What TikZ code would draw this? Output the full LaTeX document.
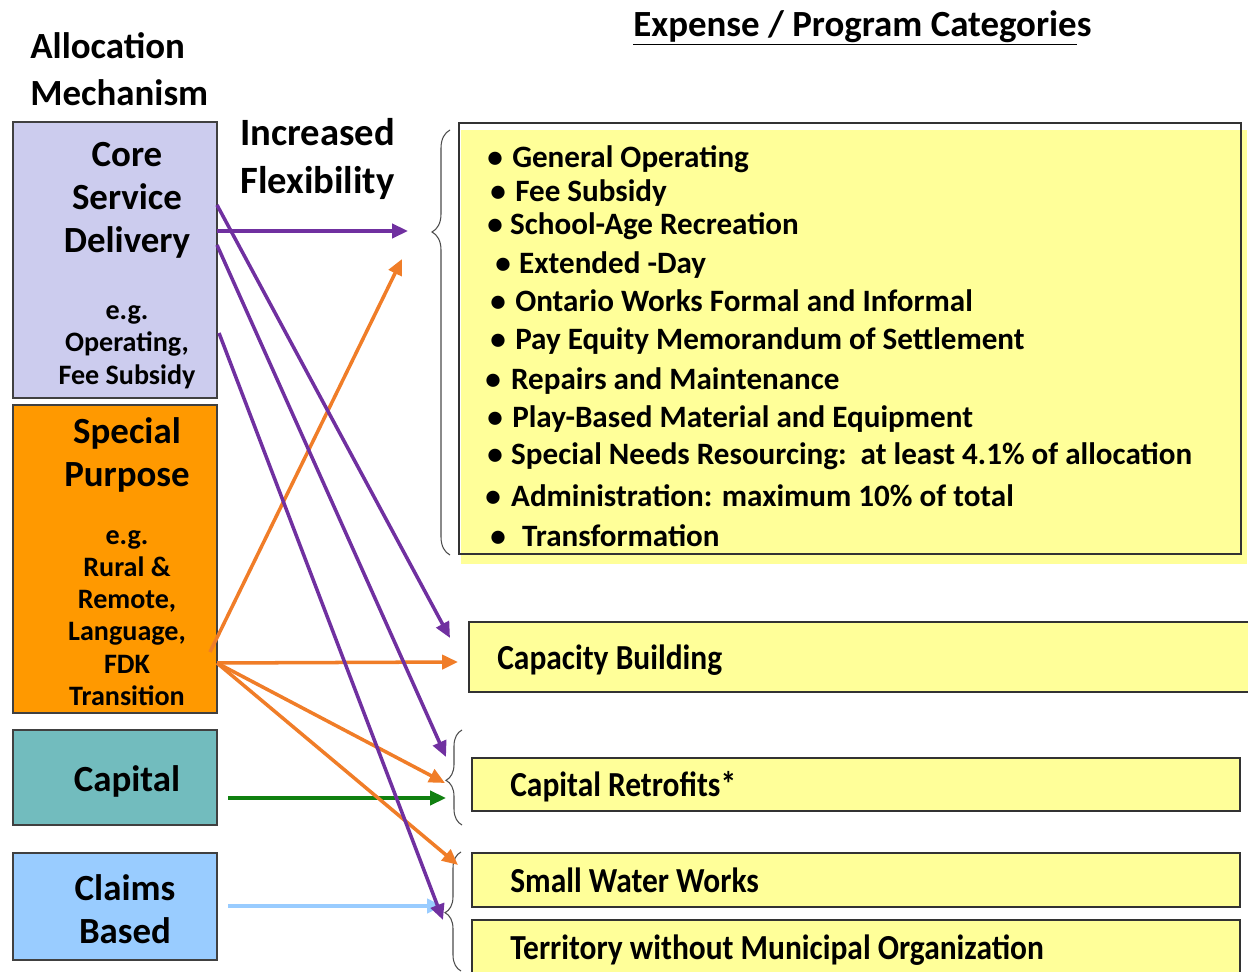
\documentclass[tikz,border=0pt]{standalone}
\usepackage{fontspec}
\setmainfont{Carlito}
\usepackage{graphicx}
\usetikzlibrary{arrows.meta,decorations.pathreplacing,positioning}
\definecolor{corelav}{RGB}{204,204,238}
\definecolor{specorange}{RGB}{255,153,0}
\definecolor{capteal}{RGB}{114,188,190}
\definecolor{claimblue}{RGB}{153,204,255}
\definecolor{catyellow}{RGB}{255,255,153}
\definecolor{flowpurple}{RGB}{112,48,160}
\definecolor{floworange}{RGB}{240,125,40}
\definecolor{flowgreen}{RGB}{16,128,16}
\tikzset{mechanism node/.style={rectangle, draw=black!75, line width=1pt,
    minimum width=4.08cm, inner sep=0pt}}
\tikzset{category node/.style={rectangle, draw=black!80, line width=1pt,
    fill=catyellow, inner sep=0pt}}
\tikzset{heading text/.style={font=\bfseries\fontsize{21}{26.6}\selectfont, inner sep=0pt}}
\tikzset{label text/.style={font=\bfseries\fontsize{21}{24.4}\selectfont, align=center, inner sep=0pt}}
\tikzset{example text/.style={font=\bfseries\fontsize{16}{18.4}\selectfont, align=center, inner sep=0pt}}
\tikzset{item text/.style={font=\bfseries\fontsize{17.7}{20}\selectfont, anchor=base west, inner sep=0pt}}
\tikzset{category text/.style={font=\bfseries\fontsize{20}{24}\selectfont, anchor=base west, inner sep=0pt}}
\tikzset{flow edge/.style={line width=2pt, -{Triangle[length=9pt,width=8pt]}}}
\tikzset{group brace/.style={draw=black!70, line width=0.6pt, decorate,
    decoration={brace, amplitude=#1}}}
\newcommand{\narrowtext}[1]{\scalebox{0.895}[1]{#1}}

\begin{document}
\begin{tikzpicture}[x=0.02cm, y=-0.02cm]
  \clip (0,0) rectangle (1248,972);

  \node [heading text, anchor=west, align=left] (alloc)   at ( 30, 69) {Allocation\\Mechanism};
  \node [heading text, anchor=west]             (expense) at (633, 28) {\underline{Expense / Program Categorie}s};
  \node [heading text, anchor=west, align=left, font=\bfseries\fontsize{22}{27.8}\selectfont]
                                                (flex)    at (240,159) {Increased\\Flexibility};

  \node [mechanism node, fill=corelav,     minimum height=5.52cm] (core)    at (115,260.0) {};
  \node [mechanism node, fill=specorange,  minimum height=6.16cm] (special) at (115,559.0) {};
  \node [mechanism node, fill=capteal,     minimum height=1.90cm] (capital) at (115,777.5) {};
  \node [mechanism node, fill=claimblue,   minimum height=2.14cm] (claims)  at (115,906.5) {};

  \node [label text]   (core title)    at (127,200) {Core\\Service\\Delivery};
  \node [example text] (core eg)       at (127,347) {e.g.\\Operating,\\Fee Subsidy};
  \node [label text]   (special title) at (127,455) {Special\\Purpose};
  \node [example text] (special eg)    at (127,618) {e.g.\\Rural \&\\Remote,\\Language,\\FDK\\Transition};
  \node [label text]   (capital title) at (127,781) {Capital};
  \node [label text]   (claims title)  at (125,909) {Claims\\Based};

  \fill [catyellow] (461,130) rectangle (1247,564);
  \node [category node, fill=none, minimum width=15.64cm, minimum height=8.62cm] (general) at (850,338.5) {};
  \foreach \bx/\by/\gap/\txt [count=\i] in {
      487/168/14.2pt/General Operating,
      490/202/14.2pt/Fee Subsidy,
      487/235/13.0pt/School-Age Recreation,
      495/274/13.6pt/Extended -Day,
      490/312/14.2pt/Ontario Works Formal and Informal,
      490/350/14.2pt/Pay Equity Memorandum of Settlement,
      485/390/14.7pt/Repairs and Maintenance,
      487/428/14.2pt/Play-Based Material and Equipment,
      487/465/13.6pt/{Special Needs Resourcing:\ \ at least 4.1\% of allocation},
      485/507/14.7pt/{Administration: maximum 10\% of total},
      490/547/18.1pt/Transformation}
    \node [item text] (item\i) at (\bx,\by) {\makebox[\gap][l]{\textbullet}\txt};

  \node [category node, minimum width=15.82cm, minimum height=1.40cm] (capacity) at (864.5,657.0) {};
  \node [category node, minimum width=15.36cm, minimum height=1.06cm] (retrofit) at (856.0,784.5) {};
  \node [category node, minimum width=15.36cm, minimum height=1.08cm] (water)    at (856.0,880.0) {};
  \node [category node, minimum width=15.36cm, minimum height=1.40cm] (territory) at (856.0,955.0) {};

  \node [category text] (capacity text)  at (497,670) {\narrowtext{Capacity Building}};
  \node [category text] (retrofit text)  at (510,797) {\narrowtext{Capital Retrofits*}};
  \node [category text] (water text)     at (510,892) {\narrowtext{Small Water Works}};
  \node [category text] (territory text) at (510,959) {\narrowtext{Territory without Municipal Organization}};

  \draw [group brace=0.36cm, decoration={aspect=0.76}] (450,555) -- (450,130);
  \draw [group brace=0.32cm, decoration={aspect=0.47}] (462,825) -- (462,730);
  \draw [group brace=0.32cm, decoration={aspect=0.49}] (461,971) -- (461,852);

  \coordinate (core o1)    at (217,231);
  \coordinate (core o2)    at (217,205);
  \coordinate (core o3)    at (217,245);
  \coordinate (core o4)    at (219,333);
  \coordinate (special o1) at (210,652);
  \coordinate (special o2) at (217,663);
  \coordinate (capital o)  at (228,798);
  \coordinate (claims o)   at (228,906);
  \coordinate (general in) at (408,231);
  \coordinate (general in2) at (402,259);
  \coordinate (capacity in) at (450,638);
  \coordinate (capacity in2) at (458,662);
  \coordinate (retrofit in) at (446,757);
  \coordinate (retrofit in2) at (445,783);
  \coordinate (retrofit in3) at (446,798);
  \coordinate (water in)   at (458,865);
  \coordinate (territory in) at (443,920);
  \coordinate (territory in2) at (443,906);

  \draw [flow edge, claimblue]  (claims o)   -- (territory in2);
  \draw [flow edge, flowgreen]  (capital o)  -- (retrofit in3);
  \draw [flow edge, floworange] (special o1) -- (general in2);
  \draw [flow edge, floworange] (special o2) -- (capacity in2);
  \draw [flow edge, floworange] (special o2) -- (retrofit in2);
  \draw [flow edge, floworange] (special o2) -- (water in);
  \draw [flow edge, flowpurple] (core o1)    -- (general in);
  \draw [flow edge, flowpurple] (core o2)    -- (capacity in);
  \draw [flow edge, flowpurple] (core o3)    -- (retrofit in);
  \draw [flow edge, flowpurple] (core o4)    -- (territory in);
\end{tikzpicture}
\end{document}
